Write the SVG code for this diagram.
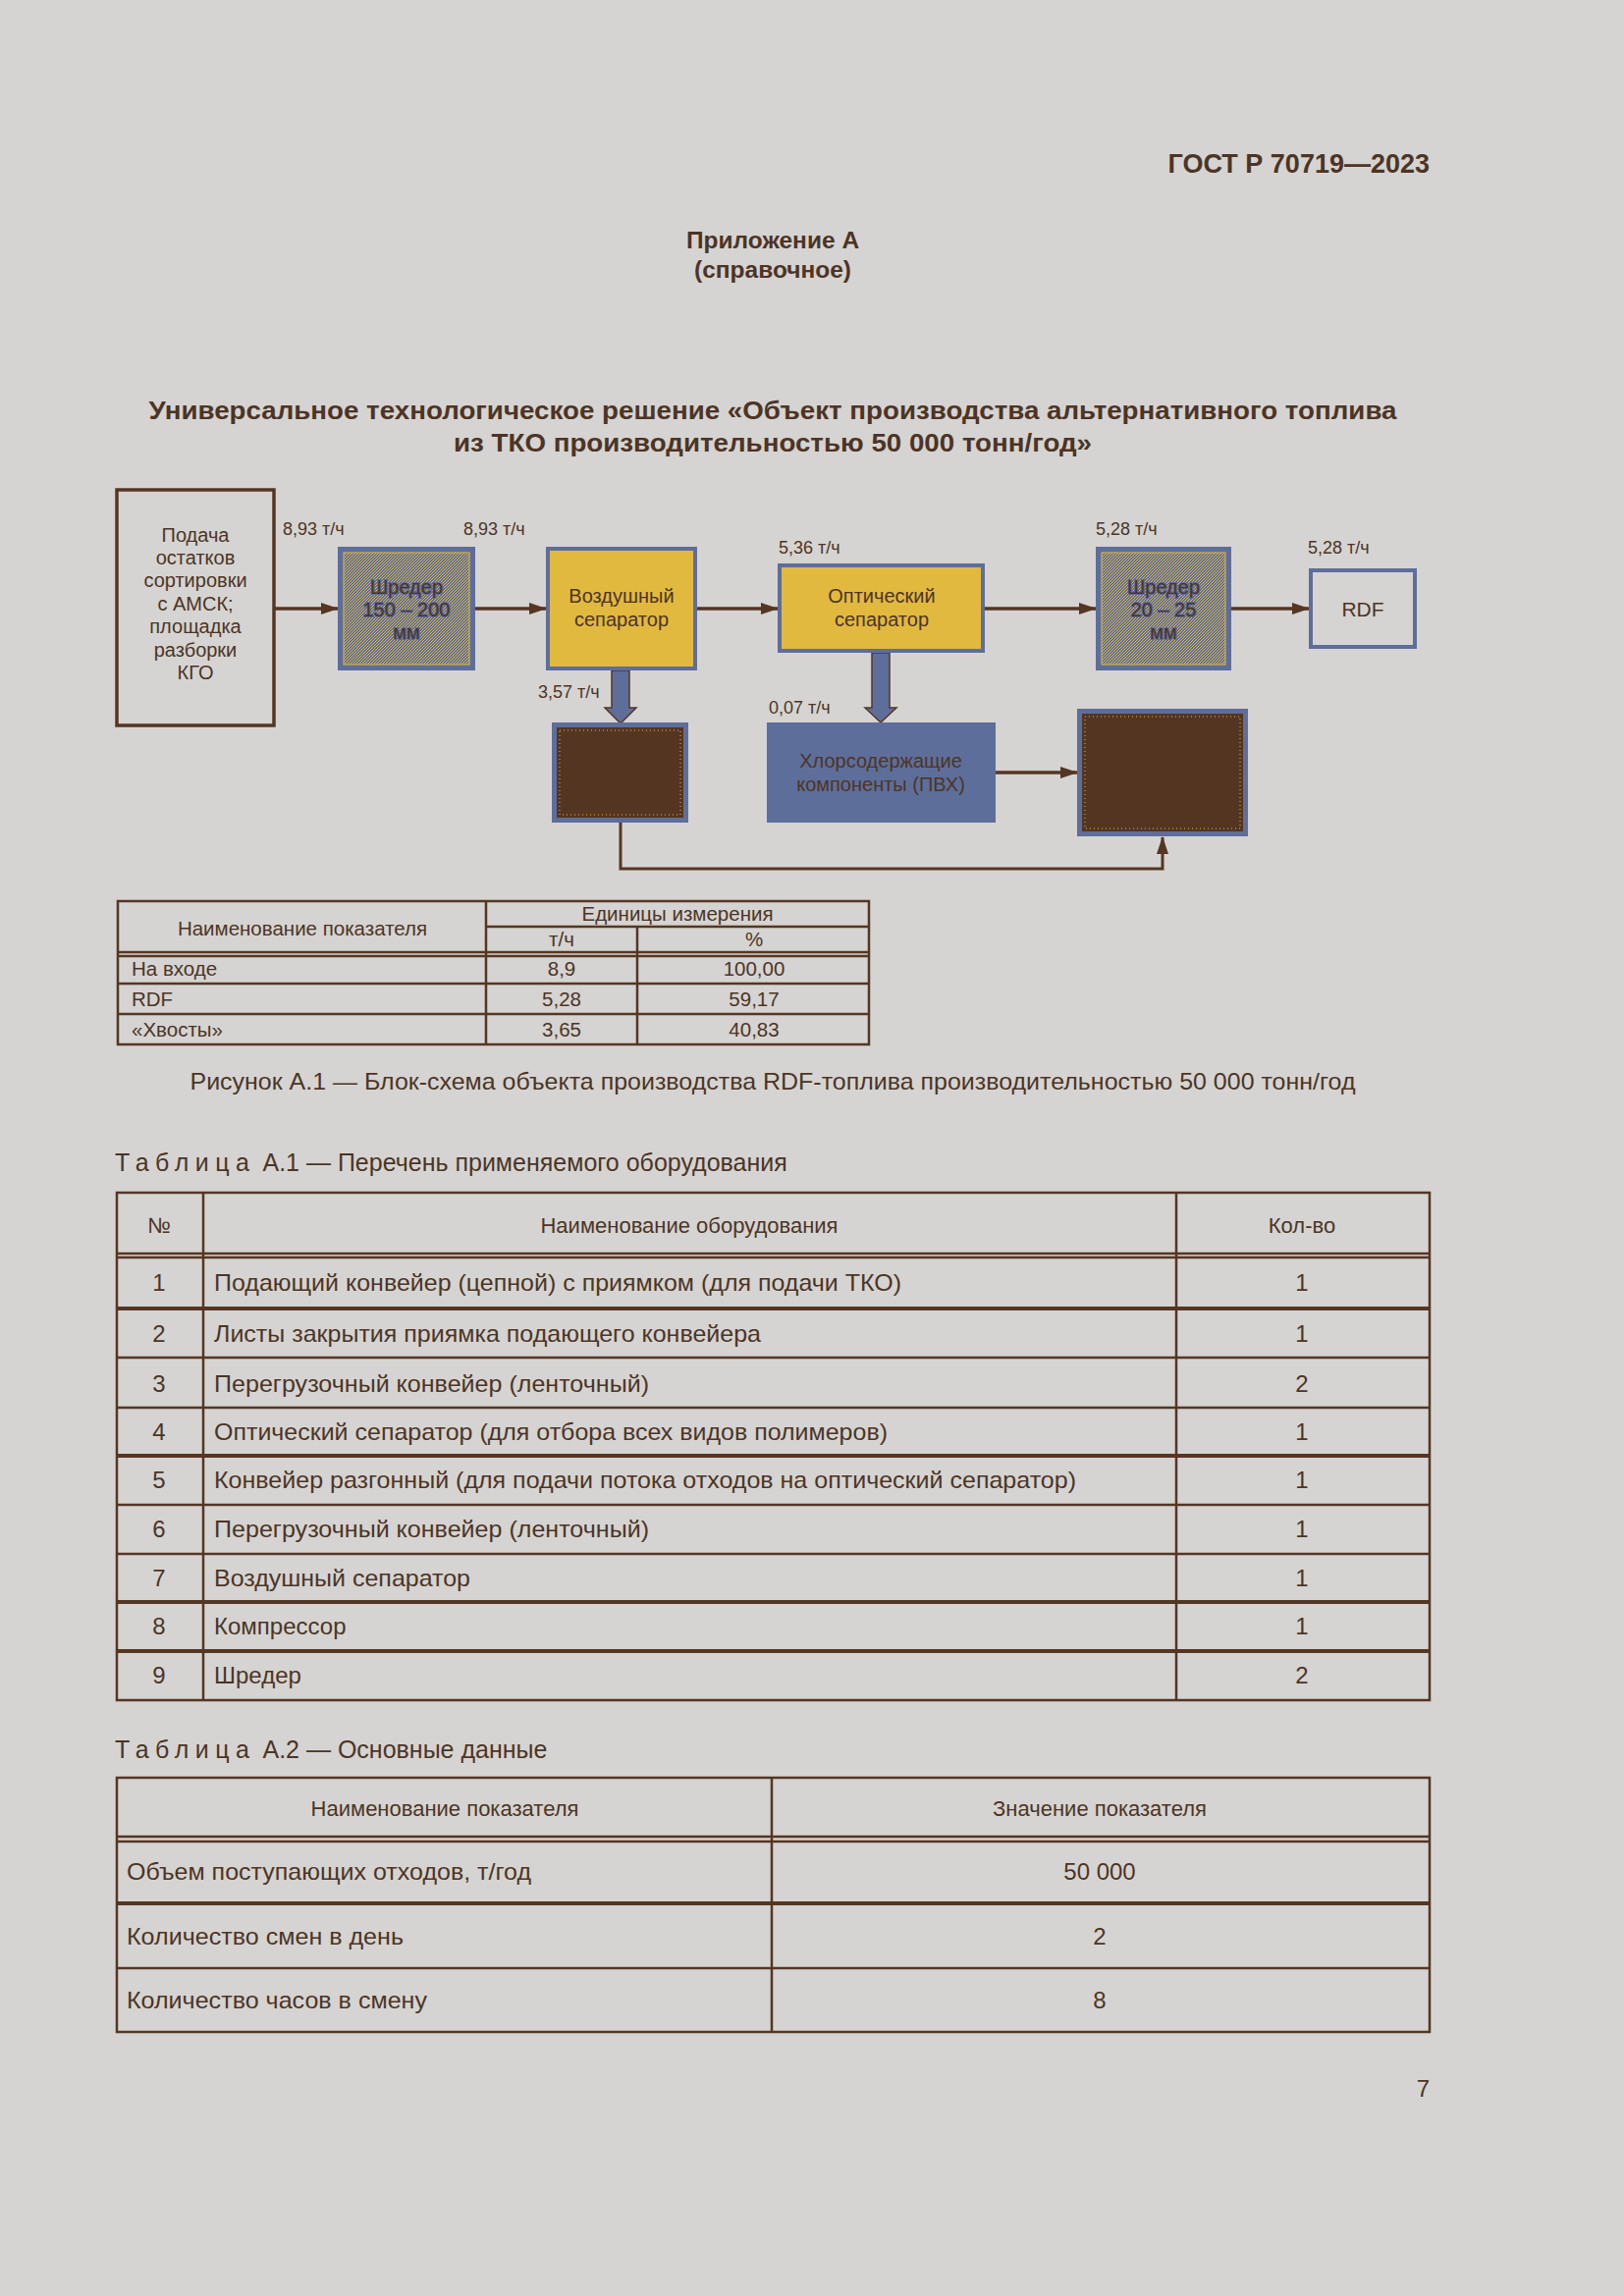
<svg xmlns="http://www.w3.org/2000/svg" width="1654" height="2339" viewBox="0 0 1654 2339">
<defs>
<style>
.t{font-family:"Liberation Sans",Arial,sans-serif;fill:#4d3425}
.b{font-weight:bold}
.m{text-anchor:middle}
.e{text-anchor:end}
.lbl{font-size:18px}
.box{font-size:20px}
.ft{font-size:20.5px}
.row{font-size:24px}
.hdr{font-size:22px}
.ln{stroke:#553623;stroke-width:2.5;fill:none}
.lnb{stroke:#553623;stroke-width:4;fill:none}
.arr{stroke:#553623;stroke-width:3.5;fill:none;marker-end:url(#ah)}
.halo{stroke:#5e6e9a;stroke-width:2;paint-order:stroke}
</style>
<marker id="ah" markerUnits="userSpaceOnUse" markerWidth="18" markerHeight="12" refX="17" refY="6" orient="auto">
<path d="M0,0 L18,6 L0,12 z" fill="#553623"/>
</marker>
<pattern id="dither" width="3" height="3" patternUnits="userSpaceOnUse">
<rect width="3" height="3" fill="#5e6e9a"/>
<rect x="0" y="0" width="1" height="1" fill="#e2b93f"/>
<rect x="2" y="1" width="1" height="1" fill="#e2b93f"/>
<rect x="1" y="2" width="1" height="1" fill="#e2b93f"/>
</pattern>
</defs>
<rect width="1654" height="2339" fill="#d5d4d2"/>

<text class="t b e" x="1456" y="176" font-size="27">ГОСТ Р 70719—2023</text>
<text class="t b m" x="787" y="253" font-size="24.5">Приложение А</text>
<text class="t b m" x="787" y="283" font-size="24.5">(справочное)</text>
<text class="t b m" x="787" y="427" font-size="26" textLength="1271" lengthAdjust="spacingAndGlyphs">Универсальное технологическое решение «Объект производства альтернативного топлива</text>
<text class="t b m" x="787" y="460" font-size="26" textLength="650" lengthAdjust="spacingAndGlyphs">из ТКО производительностью 50 000 тонн/год»</text>

<g id="connectors">
<line class="arr" x1="280" y1="620" x2="344" y2="620"/>
<line class="arr" x1="484" y1="620" x2="556" y2="620"/>
<line class="arr" x1="710" y1="620" x2="792" y2="620"/>
<line class="arr" x1="1003" y1="620" x2="1116" y2="620"/>
<line class="arr" x1="1254" y1="620" x2="1333" y2="620"/>
<line class="arr" x1="1014" y1="787" x2="1097" y2="787"/>
<path d="M632,838 V885 H1184 V853" stroke="#553623" stroke-width="3" fill="none" marker-end="url(#ah)"/>
<polygon points="623,683 641,683 641,721 648,721 632,737 616,721 623,721" fill="#5e6e9a" stroke="#553623" stroke-width="1.5"/>
<polygon points="888,665 906,665 906,721 913,721 897,736 881,721 888,721" fill="#5e6e9a" stroke="#553623" stroke-width="1.5"/>
</g>

<g id="labels" class="t lbl">
<text x="288" y="545">8,93 т/ч</text>
<text x="472" y="545">8,93 т/ч</text>
<text x="793" y="564">5,36 т/ч</text>
<text x="1116" y="545">5,28 т/ч</text>
<text x="1332" y="564">5,28 т/ч</text>
<text x="548" y="711">3,57 т/ч</text>
<text x="783" y="727">0,07 т/ч</text>
</g>

<g id="node-input">
<rect x="119" y="499" width="160" height="240" fill="none" stroke="#553623" stroke-width="3.5"/>
<text class="t m box" x="199"><tspan x="199" y="552">Подача</tspan><tspan x="199" y="575">остатков</tspan><tspan x="199" y="598">сортировки</tspan><tspan x="199" y="622">с АМСК;</tspan><tspan x="199" y="645">площадка</tspan><tspan x="199" y="669">разборки</tspan><tspan x="199" y="692">КГО</tspan></text>
</g>

<g id="node-shredder1">
<rect x="344" y="557" width="140" height="126" fill="#5e6e9a"/>
<rect x="350" y="563" width="128" height="114" fill="url(#dither)" stroke="#e2b93f" stroke-width="1"/>
<text class="t m box halo"><tspan x="414" y="605">Шредер</tspan><tspan x="414" y="628">150 – 200</tspan><tspan x="414" y="651">мм</tspan></text>
</g>

<g id="node-air">
<rect x="558" y="559" width="150" height="122" fill="#e2b93f" stroke="#5e6e9a" stroke-width="4"/>
<text class="t m box"><tspan x="633" y="614">Воздушный</tspan><tspan x="633" y="638">сепаратор</tspan></text>
</g>

<g id="node-optical">
<rect x="794" y="576" width="207" height="87" fill="#e2b93f" stroke="#5e6e9a" stroke-width="4"/>
<text class="t m box"><tspan x="898" y="614">Оптический</tspan><tspan x="898" y="638">сепаратор</tspan></text>
</g>

<g id="node-shredder2">
<rect x="1116" y="557" width="138" height="126" fill="#5e6e9a"/>
<rect x="1122" y="563" width="126" height="114" fill="url(#dither)" stroke="#e2b93f" stroke-width="1"/>
<text class="t m box halo"><tspan x="1185" y="605">Шредер</tspan><tspan x="1185" y="628">20 – 25</tspan><tspan x="1185" y="651">мм</tspan></text>
</g>

<g id="node-rdf">
<rect x="1335" y="581" width="106" height="78" fill="none" stroke="#5e6e9a" stroke-width="4"/>
<text class="t m" x="1388" y="628" font-size="21">RDF</text>
</g>

<g id="node-tails1">
<rect x="562" y="736" width="139" height="102" fill="#5e6e9a"/>
<rect x="567" y="741" width="129" height="92" fill="#543522"/>
<rect x="570" y="744" width="123" height="86" fill="none" stroke="#e2b93f" stroke-width="1" stroke-dasharray="1 3"/>
</g>

<g id="node-pvc">
<rect x="781" y="736" width="233" height="102" fill="#5e6e9a"/>
<text class="t m box"><tspan x="897" y="782">Хлорсодержащие</tspan><tspan x="897" y="806">компоненты (ПВХ)</tspan></text>
</g>

<g id="node-tails2">
<rect x="1097" y="722" width="174" height="130" fill="#5e6e9a"/>
<rect x="1102" y="727" width="164" height="120" fill="#543522"/>
<rect x="1105" y="730" width="158" height="114" fill="none" stroke="#e2b93f" stroke-width="1" stroke-dasharray="1 3"/>
</g>

<g id="figure-table">
<rect class="ln" x="120" y="918" width="765" height="146"/>
<line class="ln" x1="495" y1="918" x2="495" y2="1064"/>
<line class="ln" x1="649" y1="944" x2="649" y2="1064"/>
<line class="ln" x1="495" y1="944" x2="885" y2="944"/>
<line class="ln" x1="120" y1="970" x2="885" y2="970"/>
<line class="ln" x1="120" y1="974" x2="885" y2="974"/>
<line class="ln" x1="120" y1="1002" x2="885" y2="1002"/>
<line class="ln" x1="120" y1="1033" x2="885" y2="1033"/>
<g class="t ft">
<text class="m" x="308" y="953">Наименование показателя</text>
<text class="m" x="690" y="938">Единицы измерения</text>
<text class="m" x="572" y="964">т/ч</text>
<text class="m" x="768" y="964">%</text>
<text x="134" y="994">На входе</text>
<text class="m" x="572" y="994">8,9</text>
<text class="m" x="768" y="994">100,00</text>
<text x="134" y="1025">RDF</text>
<text class="m" x="572" y="1025">5,28</text>
<text class="m" x="768" y="1025">59,17</text>
<text x="134" y="1056">«Хвосты»</text>
<text class="m" x="572" y="1056">3,65</text>
<text class="m" x="768" y="1056">40,83</text>
</g>
</g>

<text class="t m" x="787" y="1110" font-size="24" textLength="1187" lengthAdjust="spacingAndGlyphs">Рисунок А.1 — Блок-схема объекта производства RDF-топлива производительностью 50 000 тонн/год</text>

<text class="t" x="117" y="1193" font-size="25"><tspan letter-spacing="6.5">Таблица</tspan> А.1 — Перечень применяемого оборудования</text>

<g id="table-a1">
<rect class="ln" x="119" y="1215" width="1337" height="517"/>
<line class="ln" x1="207" y1="1215" x2="207" y2="1732"/>
<line class="ln" x1="1198" y1="1215" x2="1198" y2="1732"/>
<line class="ln" x1="119" y1="1277" x2="1456" y2="1277"/>
<line class="ln" x1="119" y1="1281" x2="1456" y2="1281"/>
<line class="lnb" x1="119" y1="1333" x2="1456" y2="1333"/>
<line class="ln" x1="119" y1="1383" x2="1456" y2="1383"/>
<line class="ln" x1="119" y1="1434" x2="1456" y2="1434"/>
<line class="lnb" x1="119" y1="1483" x2="1456" y2="1483"/>
<line class="ln" x1="119" y1="1533" x2="1456" y2="1533"/>
<line class="ln" x1="119" y1="1583" x2="1456" y2="1583"/>
<line class="lnb" x1="119" y1="1632" x2="1456" y2="1632"/>
<line class="lnb" x1="119" y1="1682" x2="1456" y2="1682"/>
<g class="t hdr">
<text class="m" x="162" y="1256">№</text>
<text class="m" x="702" y="1256">Наименование оборудования</text>
<text class="m" x="1326" y="1256">Кол-во</text>
</g>
<g class="t row">
<text class="m" x="162" y="1315">1</text><text x="218" y="1315" textLength="700" lengthAdjust="spacingAndGlyphs">Подающий конвейер (цепной) с приямком (для подачи ТКО)</text><text class="m" x="1326" y="1315">1</text>
<text class="m" x="162" y="1367">2</text><text x="218" y="1367" textLength="557" lengthAdjust="spacingAndGlyphs">Листы закрытия приямка подающего конвейера</text><text class="m" x="1326" y="1367">1</text>
<text class="m" x="162" y="1418">3</text><text x="218" y="1418" textLength="443" lengthAdjust="spacingAndGlyphs">Перегрузочный конвейер (ленточный)</text><text class="m" x="1326" y="1418">2</text>
<text class="m" x="162" y="1467">4</text><text x="218" y="1467" textLength="686" lengthAdjust="spacingAndGlyphs">Оптический сепаратор (для отбора всех видов полимеров)</text><text class="m" x="1326" y="1467">1</text>
<text class="m" x="162" y="1516">5</text><text x="218" y="1516" textLength="878" lengthAdjust="spacingAndGlyphs">Конвейер разгонный (для подачи потока отходов на оптический сепаратор)</text><text class="m" x="1326" y="1516">1</text>
<text class="m" x="162" y="1566">6</text><text x="218" y="1566" textLength="443" lengthAdjust="spacingAndGlyphs">Перегрузочный конвейер (ленточный)</text><text class="m" x="1326" y="1566">1</text>
<text class="m" x="162" y="1616">7</text><text x="218" y="1616" textLength="261" lengthAdjust="spacingAndGlyphs">Воздушный сепаратор</text><text class="m" x="1326" y="1616">1</text>
<text class="m" x="162" y="1665">8</text><text x="218" y="1665">Компрессор</text><text class="m" x="1326" y="1665">1</text>
<text class="m" x="162" y="1715">9</text><text x="218" y="1715">Шредер</text><text class="m" x="1326" y="1715">2</text>
</g>
</g>

<text class="t" x="117" y="1791" font-size="25"><tspan letter-spacing="6.5">Таблица</tspan> А.2 — Основные данные</text>

<g id="table-a2">
<rect class="ln" x="119" y="1811" width="1337" height="259"/>
<line class="ln" x1="786" y1="1811" x2="786" y2="2070"/>
<line class="ln" x1="119" y1="1871" x2="1456" y2="1871"/>
<line class="ln" x1="119" y1="1876" x2="1456" y2="1876"/>
<line class="lnb" x1="119" y1="1939" x2="1456" y2="1939"/>
<line class="ln" x1="119" y1="2005" x2="1456" y2="2005"/>
<g class="t hdr">
<text class="m" x="453" y="1850">Наименование показателя</text>
<text class="m" x="1120" y="1850">Значение показателя</text>
</g>
<g class="t row">
<text x="129" y="1915" textLength="412" lengthAdjust="spacingAndGlyphs">Объем поступающих отходов, т/год</text><text class="m" x="1120" y="1915">50 000</text>
<text x="129" y="1981" textLength="282" lengthAdjust="spacingAndGlyphs">Количество смен в день</text><text class="m" x="1120" y="1981">2</text>
<text x="129" y="2046" textLength="306" lengthAdjust="spacingAndGlyphs">Количество часов в смену</text><text class="m" x="1120" y="2046">8</text>
</g>
</g>

<text class="t e" x="1456" y="2136" font-size="24">7</text>
</svg>
